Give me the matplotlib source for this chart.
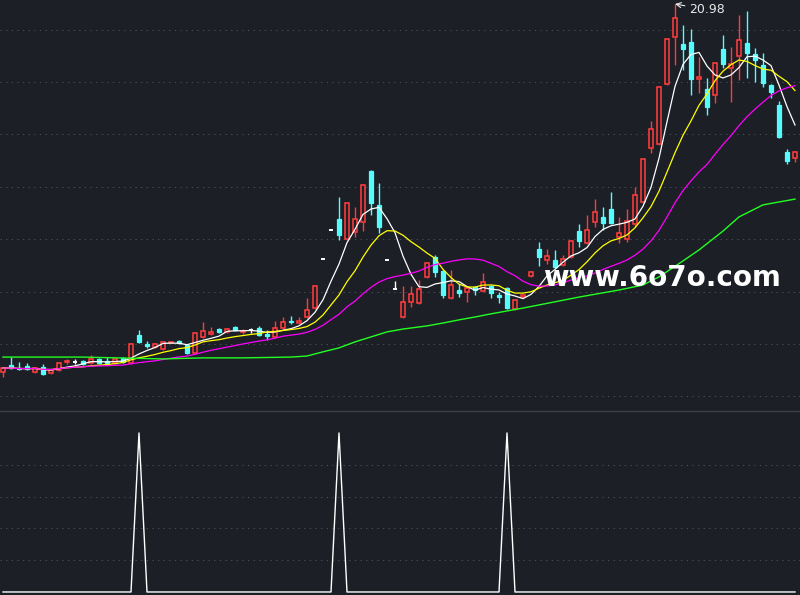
import numpy as np
import pandas as pd
import matplotlib
matplotlib.use("Agg")
from matplotlib import pyplot as plt
from matplotlib.patches import Rectangle
from matplotlib.lines import Line2D

# дневные свечи (100 торговых дней)
opens = [
    6.93, 7.20, 7.10, 7.16, 6.93, 7.12, 6.89, 7.01, 7.31, 7.33,
    7.35, 7.28, 7.43, 7.35, 7.28, 7.47, 7.28, 8.34, 8.00, 7.89,
    7.81, 8.04, 8.11, 7.96, 7.66, 8.27, 8.38, 8.57, 8.46, 8.65,
    8.46, 8.52, 8.61, 8.38, 8.27, 8.61, 8.88, 8.80, 9.03, 9.37,
    11.23, 12.35, 12.77, 12.01, 12.28, 12.66, 14.60, 13.31, 11.22, 10.10,
    9.03, 9.60, 9.56, 10.56, 11.32, 10.79, 9.76, 10.06, 9.99, 10.18,
    10.02, 10.21, 9.87, 10.14, 9.34, 9.79, 10.60, 11.63, 11.21, 11.21,
    11.02, 11.32, 12.31, 11.86, 12.66, 12.85, 13.15, 12.08, 12.01, 12.58,
    13.42, 15.48, 15.63, 17.92, 19.72, 19.45, 19.53, 18.11, 17.73, 17.50,
    19.26, 18.53, 18.99, 19.49, 19.07, 18.65, 17.89, 17.12, 15.33, 15.10]
highs = [
    7.12, 7.50, 7.31, 7.28, 7.12, 7.24, 7.05, 7.31, 7.43, 7.43,
    7.39, 7.58, 7.47, 7.50, 7.47, 7.50, 8.04, 8.53, 8.11, 8.04,
    8.11, 8.08, 8.15, 8.00, 8.46, 8.84, 8.65, 8.61, 8.61, 8.69,
    8.57, 8.61, 8.69, 8.53, 8.88, 9.03, 9.07, 9.03, 9.76, 10.25,
    11.23, 12.35, 13.61, 13.42, 13.23, 14.11, 14.64, 14.15, 11.22, 10.40,
    10.21, 10.21, 10.44, 11.13, 11.40, 10.82, 10.82, 10.29, 10.18, 10.21,
    10.71, 10.25, 9.99, 10.18, 9.72, 9.91, 10.79, 11.89, 11.63, 11.59,
    11.40, 11.97, 12.58, 12.92, 13.53, 13.23, 13.80, 12.85, 13.15, 13.99,
    15.10, 16.51, 17.85, 19.68, 20.98, 20.18, 20.02, 18.95, 18.15, 18.76,
    19.79, 19.34, 20.56, 20.71, 19.30, 19.11, 17.92, 17.28, 15.44, 15.37]
lows = [
    6.74, 7.05, 7.01, 7.01, 6.89, 6.82, 6.86, 6.97, 7.24, 7.24,
    7.20, 7.24, 7.24, 7.28, 7.24, 7.28, 7.24, 8.04, 7.85, 7.85,
    7.77, 8.02, 8.00, 7.62, 7.62, 8.23, 8.34, 8.42, 8.42, 8.50,
    8.38, 8.42, 8.31, 8.15, 8.23, 8.57, 8.77, 8.77, 8.99, 9.34,
    11.23, 12.35, 11.97, 11.97, 12.08, 12.31, 12.92, 12.24, 11.22, 10.10,
    8.99, 9.41, 9.53, 10.52, 10.56, 9.76, 9.72, 9.79, 9.60, 9.87,
    9.99, 9.76, 9.56, 9.34, 9.30, 9.76, 10.56, 10.98, 11.05, 10.90,
    10.98, 11.28, 11.70, 11.82, 12.47, 12.35, 12.58, 11.86, 11.89, 12.47,
    13.38, 15.29, 15.60, 17.89, 18.65, 18.46, 17.50, 17.58, 16.74, 17.20,
    18.53, 17.24, 18.08, 18.15, 18.00, 17.81, 17.39, 15.86, 14.87, 14.95]
closes = [
    7.08, 7.08, 7.03, 7.05, 7.08, 6.86, 7.01, 7.28, 7.35, 7.33,
    7.24, 7.43, 7.28, 7.28, 7.43, 7.31, 8.00, 8.08, 7.94, 8.00,
    8.08, 8.08, 8.04, 7.66, 8.42, 8.50, 8.46, 8.46, 8.57, 8.53,
    8.50, 8.52, 8.34, 8.31, 8.61, 8.84, 8.82, 8.88, 9.30, 10.21,
    11.23, 12.35, 12.16, 13.38, 12.77, 14.07, 13.38, 12.47, 11.22, 10.10,
    9.60, 9.91, 10.10, 11.09, 10.75, 9.87, 10.25, 9.95, 10.14, 10.06,
    10.37, 9.95, 9.79, 9.37, 9.68, 9.87, 10.75, 11.32, 11.36, 10.94,
    11.25, 11.93, 11.93, 12.35, 13.04, 12.62, 12.62, 12.24, 12.69, 13.69,
    15.06, 16.21, 17.81, 19.64, 20.44, 19.26, 18.11, 18.19, 17.05, 18.73,
    18.69, 18.69, 19.60, 19.11, 18.84, 17.96, 17.62, 15.90, 14.98, 15.33]

ma60_days = [0, 10, 20, 25, 30, 36, 38, 40, 42, 44, 46, 48, 50, 53, 55, 57,
             59, 61, 63, 65, 67, 72, 77, 80, 82, 85, 87, 90, 92, 95, 97, 99]
ma60_vals = [7.50, 7.50, 7.43, 7.47, 7.47, 7.50, 7.54, 7.70, 7.85, 8.08,
             8.27, 8.46, 8.57, 8.69, 8.80, 8.92, 9.03, 9.15, 9.26, 9.37,
             9.49, 9.79, 10.06, 10.25, 10.56, 11.17, 11.59, 12.31, 12.85,
             13.31, 13.42, 13.53]

# сигнальный индикатор в нижнем окне
signal_days = [17, 42, 63]
signal_level = 100

peak_label = "20.98"
watermark = "www.6o7o.com"

BG = '#1c1f26'
RED = '#ff3c3c'
CYAN = '#54fcfc'
GRID = '#4b4f58'

n = len(closes)
days = np.arange(n)
fig = plt.figure(figsize=(8, 5.95), dpi=100, facecolor=BG)
ax = fig.add_axes([0, 185 / 595, 1, 410 / 595])
ax2 = fig.add_axes([0, 0, 1, 184 / 595])

for a in (ax, ax2):
    a.set_facecolor(BG)
    for s in a.spines.values():
        s.set_visible(False)
    a.tick_params(length=0, labelleft=False, labelbottom=False)
    a.set_xlim(-0.375, n - 0.375)

# свечи
w = 0.62
for i in range(n):
    o, h, l, c = opens[i], highs[i], lows[i], closes[i]
    top, bot = max(o, c), min(o, c)
    if c > o:
        ax.vlines(i, top, h, color=RED, lw=1.0, zorder=2)
        ax.vlines(i, l, bot, color=RED, lw=1.0, zorder=2)
        ax.add_patch(Rectangle((i - w / 2, bot), w, top - bot, facecolor=BG,
                               edgecolor=RED, lw=1.15, zorder=2))
    elif c < o:
        ax.vlines(i, l, h, color=CYAN, lw=1.0, zorder=2)
        ax.add_patch(Rectangle((i - w / 2, bot), w, top - bot, facecolor=CYAN,
                               edgecolor=CYAN, lw=0.9, zorder=2))
    else:
        ax.vlines(i, l, h, color='white', lw=1.0, zorder=2)
        ax.hlines(o, i - w / 2, i + w / 2, color='white', lw=1.4, zorder=2)

# скользящие средние
s = pd.Series(closes)
ax.plot(days, s.rolling(5, min_periods=1).mean(), color='white', lw=0.9, zorder=3)
ax.plot(days, s.rolling(10, min_periods=1).mean(), color='#ffff00', lw=0.9, zorder=3)
ax.plot(days, s.rolling(20, min_periods=1).mean(), color='#ff00ff', lw=0.9, zorder=3)
ax.plot(ma60_days, ma60_vals, color='#22ff22', lw=1.0, zorder=3)

ax.set_ylim(5.48, 21.13)
ax.set_yticks(np.arange(6, 21, 2))
ax.grid(axis='y', color=GRID, lw=0.75, linestyle=(0, (1.2, 4.2)))
ax.grid(axis='x', visible=False)

top_i = int(np.argmax(highs))
ax.annotate(peak_label, xy=(top_i, highs[top_i]), xytext=(top_i + 1.75, 20.75),
            color='#e8e8e8', fontsize=9, ha='left', va='center',
            arrowprops=dict(arrowstyle='->', color='#e8e8e8', lw=0.8,
                            shrinkA=1, shrinkB=0), zorder=5)

# нижнее окно
sig = np.zeros(n)
sig[signal_days] = signal_level
ax2.plot(days, sig, color='white', lw=1.0, zorder=3)
ax2.set_ylim(-1.9, 113.8)
ax2.set_yticks([20, 40, 60, 80])
ax2.grid(axis='y', color=GRID, lw=0.75, linestyle=(0, (1.2, 4.2)))
ax2.grid(axis='x', visible=False)

fig.add_artist(Line2D([0, 1], [1 - 410.5 / 595] * 2, color='#3b3f48', lw=1.0))

fig.text(543 / 800, 1 - 286 / 595, watermark, color='white', fontsize=20,
         fontweight='bold', ha='left', va='baseline')

fig.savefig('out.png', dpi=100, facecolor=BG)
